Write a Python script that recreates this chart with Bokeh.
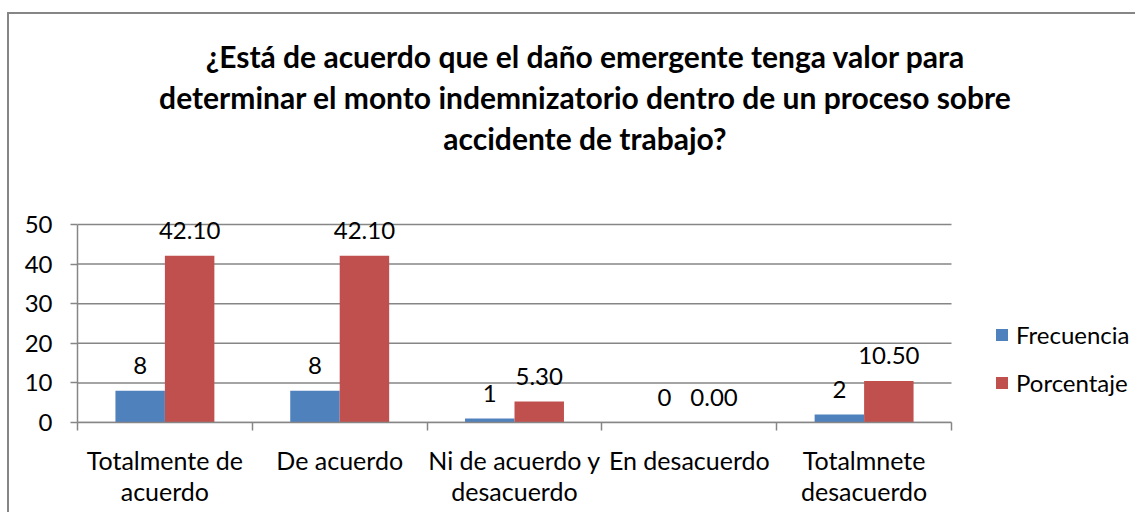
from bokeh.plotting import figure
from bokeh.models import (ColumnDataSource, LabelSet, Legend, LegendItem,
                          FixedTicker, Range1d, Div)
from bokeh.layouts import column
from bokeh.embed import file_html
from bokeh.resources import INLINE
from bokeh.core.properties import value

categories = ["Totalmente de\nacuerdo", "De acuerdo", "Ni de acuerdo y\ndesacuerdo",
              "En desacuerdo", "Totalmnete\ndesacuerdo"]
frecuencia = [8, 8, 1, 0, 2]
porcentaje = [42.10, 42.10, 5.30, 0.00, 10.50]
series_names = ["Frecuencia", "Porcentaje"]
title_lines = ["¿Está de acuerdo que el daño emergente tenga valor para",
               "determinar el monto indemnizatorio dentro de un proceso sobre",
               "accidente de trabajo?"]
y_ticks = [0, 10, 20, 30, 40, 50]
y_max = 50

BLUE = "#4F81BD"
RED = "#C0504D"
GRAY = "#868686"
FONT = "Lato"

n = len(categories)
bw = 0.283
xb = [i + 0.5 - bw / 2 for i in range(n)]
xr = [i + 0.5 + bw / 2 for i in range(n)]

# layout geometry (pixels)
FIG_W, FIG_H = 1125, 354
LEFT, TOP, BOTTOM = 68, 53, 91
FRAME_W = FIG_W - LEFT
FRAME_H = FIG_H - TOP - BOTTOM
PX_PER_CAT = 174.8
PX_PER_UNIT = 3.96

src_b = ColumnDataSource(dict(x=xb, top=frecuencia, txt=[str(v) for v in frecuencia]))
src_r = ColumnDataSource(dict(x=xr, top=porcentaje, txt=["%.2f" % v for v in porcentaje]))

p = figure(width=FIG_W, height=FIG_H, output_backend="svg", toolbar_location=None,
           x_range=Range1d(0, FRAME_W / PX_PER_CAT),
           y_range=Range1d(0, FRAME_H / PX_PER_UNIT),
           min_border_left=LEFT, min_border_right=0, min_border_top=TOP,
           min_border_bottom=BOTTOM)
p.outline_line_color = None
p.background_fill_color = "white"
p.margin = 0

# horizontal gridlines, limited to the category area
p.xgrid.grid_line_color = None
p.ygrid.grid_line_color = None
p.segment(x0=0, x1=n, y0=y_ticks, y1=y_ticks, line_color=GRAY, line_width=1.5)

rb = p.vbar(x="x", top="top", width=bw, source=src_b, fill_color=BLUE, line_color=None)
rr = p.vbar(x="x", top="top", width=bw, source=src_r, fill_color=RED, line_color=None)

for src in (src_b, src_r):
    p.add_layout(LabelSet(x="x", y="top", text="txt", source=src, text_align="center",
                          text_baseline="bottom", y_offset=17,
                          text_font=value(FONT), text_font_size=value("24px"),
                          text_color="black"))

# axes
p.yaxis.ticker = FixedTicker(ticks=y_ticks)
p.yaxis.bounds = (0, y_max)
p.yaxis.axis_line_color = GRAY
p.yaxis.axis_line_width = 1.5
p.yaxis.major_tick_line_color = GRAY
p.yaxis.major_tick_line_width = 1.5
p.yaxis.major_tick_in = 0
p.yaxis.major_tick_out = 7
p.yaxis.minor_tick_line_color = None
p.yaxis.major_label_text_font = FONT
p.yaxis.major_label_text_font_size = "24px"
p.yaxis.major_label_text_color = "black"
p.yaxis.major_label_standoff = 18

p.xaxis.ticker = FixedTicker(ticks=[i + 0.5 for i in range(n)],
                             minor_ticks=list(range(n + 1)))
p.xaxis.bounds = (0, n)
p.xaxis.major_label_overrides = {i + 0.5: c for i, c in enumerate(categories)}
p.xaxis.axis_line_color = GRAY
p.xaxis.axis_line_width = 1.5
p.xaxis.major_tick_line_color = None
p.xaxis.minor_tick_line_color = GRAY
p.xaxis.minor_tick_line_width = 1.5
p.xaxis.minor_tick_in = 0
p.xaxis.minor_tick_out = 8
p.xaxis.major_label_text_font = FONT
p.xaxis.major_label_text_font_size = "25px"
p.xaxis.major_label_text_line_height = 1.05
p.xaxis.major_label_text_color = "black"
p.xaxis.major_label_standoff = 14

legend = Legend(items=[LegendItem(label=series_names[0], renderers=[rb]),
                       LegendItem(label=series_names[1], renderers=[rr])],
                location=(917, 25), orientation="vertical",
                glyph_width=15, glyph_height=15, label_standoff=7,
                label_height=24, spacing=19, padding=0, margin=0,
                border_line_color=None, background_fill_alpha=0,
                label_text_font=FONT, label_text_font_size="24px",
                label_text_color="black")
p.add_layout(legend, "center")

title_html = ('<div style="width: 1100px; font-family: Lato; font-weight: bold; '
              'font-size: 30px; line-height: 41px; text-align: center; color: black; '
              'white-space: nowrap;">' + "<br>".join(title_lines) + "</div>")
title_div = Div(text=title_html, width=1100, height=123, margin=(22, 0, 0, 26))

layout = column(title_div, p, spacing=0)
layout.margin = (12, 0, 0, 7)
layout.styles = {"border-top": "2px solid #868686", "border-left": "2px solid #868686",
                 "background-color": "white"}

open("out.html", "w").write(file_html(layout, INLINE))
